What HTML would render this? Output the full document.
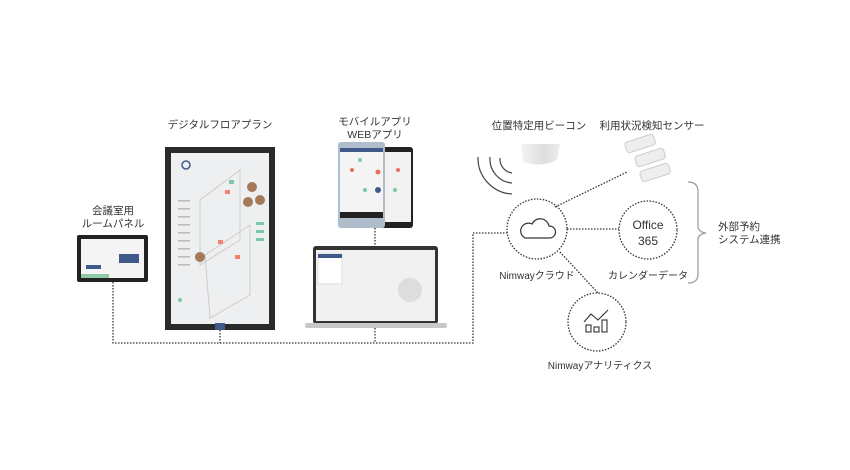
<!DOCTYPE html>
<html><head><meta charset="utf-8"><style>
html,body{margin:0;padding:0;background:#fff;}
svg{display:block}
text{font-family:"Liberation Sans","Noto Sans CJK JP",sans-serif;fill:#333;font-size:10.5px}
</style></head><body>
<svg width="850" height="470" viewBox="0 0 850 470" xmlns="http://www.w3.org/2000/svg">
<defs><linearGradient id="bg" x1="0" x2="1"><stop offset="0" stop-color="#f4f4f4"/><stop offset="0.6" stop-color="#dedede"/><stop offset="1" stop-color="#eee"/></linearGradient></defs>
<g stroke="#333" stroke-width="1.3" stroke-dasharray="1.5,1.5" fill="none">
<path d="M113 282 V343 H473 V233 H507"/>
<path d="M220 330 V343"/>
<path d="M375 328 V343"/>
<path d="M375 228 V246"/>
<path d="M555 207 L627 172"/>
<path d="M567 229 H619"/>
<path d="M560 252 L598 293"/>
<circle cx="537" cy="229" r="30"/>
<circle cx="648" cy="230" r="29"/>
<circle cx="597" cy="322" r="29"/>
</g>
<!-- room panel -->
<rect x="77" y="235" width="71" height="47" rx="2" fill="#222"/>
<rect x="81" y="239" width="63" height="39" fill="#f4f4f4"/>
<rect x="81" y="274" width="28" height="4" fill="#8fc9a6"/>
<rect x="119" y="254" width="20" height="9" fill="#3f5a8a"/>
<rect x="86" y="265" width="15" height="4" fill="#3f5a8a"/>
<!-- floor display -->
<rect x="165" y="147" width="110" height="183" fill="#2a2a2a"/>
<rect x="171" y="153" width="98" height="171" fill="#eeeff0"/>
<circle cx="186" cy="165" r="4" fill="none" stroke="#3f5a8a" stroke-width="1.5"/>
<g stroke="#ccc" fill="none"><path d="M200 200 L240 170 L240 240 L200 265Z"/><path d="M205 255 L250 225 L250 295 L210 318Z"/></g>
<g fill="#f08070"><rect x="225" y="190" width="5" height="4"/><rect x="218" y="240" width="5" height="4"/><rect x="235" y="255" width="5" height="4"/></g>
<g fill="#7ccaa5"><rect x="229" y="180" width="5" height="4"/><rect x="256" y="222" width="8" height="3"/><rect x="256" y="230" width="8" height="3"/><rect x="256" y="238" width="8" height="3"/><circle cx="180" cy="300" r="2"/></g>
<g fill="#a57a5a"><circle cx="252" cy="187" r="5"/><circle cx="248" cy="202" r="5"/><circle cx="260" cy="200" r="5"/><circle cx="200" cy="257" r="5"/></g>
<g fill="#bbb"><rect x="178" y="200" width="12" height="1.5"/><rect x="178" y="208" width="12" height="1.5"/><rect x="178" y="216" width="12" height="1.5"/><rect x="178" y="224" width="12" height="1.5"/><rect x="178" y="232" width="12" height="1.5"/><rect x="178" y="240" width="12" height="1.5"/><rect x="178" y="248" width="12" height="1.5"/><rect x="178" y="256" width="12" height="1.5"/><rect x="178" y="264" width="12" height="1.5"/></g>
<rect x="215" y="323" width="10" height="7" fill="#3f5a8a"/>
<!-- phones -->
<rect x="381" y="147" width="32" height="81" rx="3" fill="#222"/>
<rect x="383" y="152" width="28" height="70" fill="#f2f2f2"/>
<rect x="338" y="142" width="47" height="86" rx="3" fill="#aebccb"/>
<rect x="340" y="148" width="43" height="70" fill="#f4f4f4"/>
<rect x="340" y="148" width="43" height="4" fill="#3f5a8a"/>
<rect x="340" y="212" width="43" height="6" fill="#222"/>
<g fill="#e87060"><circle cx="352" cy="170" r="2"/><circle cx="378" cy="172" r="2.5"/><circle cx="398" cy="170" r="2"/></g>
<g fill="#7ccaa5"><circle cx="360" cy="160" r="2"/><circle cx="365" cy="190" r="2"/><circle cx="395" cy="190" r="2"/></g>
<circle cx="378" cy="190" r="3" fill="#3f5a8a"/>
<!-- laptop -->
<rect x="313" y="246" width="125" height="78" rx="3" fill="#333"/>
<rect x="316" y="250" width="119" height="71" fill="#f1f1f1"/>
<rect x="318" y="254" width="24" height="30" fill="#fff" stroke="#ddd"/>
<rect x="318" y="254" width="24" height="4" fill="#3f5a8a"/>
<circle cx="410" cy="290" r="12" fill="#ddd"/>
<rect x="305" y="323" width="142" height="5" rx="2" fill="#c8c8c8"/>
<!-- beacon -->
<path d="M521 144 H560 L557 160 Q540 168 523 162Z" fill="url(#bg)"/>
<g stroke="#444" stroke-width="1.2" fill="none"><path d="M478 157 A36 36 0 0 0 512 194"/><path d="M490 157 A24 24 0 0 0 512 183"/><path d="M500 158 A14 14 0 0 0 512 173"/></g>
<!-- sensors -->
<g fill="#eee" stroke="#ccc"><rect x="625" y="138" width="30" height="11" rx="3" transform="rotate(-18 640 143)"/><rect x="635" y="152" width="30" height="11" rx="3" transform="rotate(-18 650 157)"/><rect x="640" y="167" width="30" height="11" rx="3" transform="rotate(-18 655 172)"/></g>
<!-- cloud -->
<path d="M525 238 H550 A6 6 0 0 0 549 226 A9 9 0 0 0 532 224 A7 7 0 0 0 525 238Z" fill="none" stroke="#333" stroke-width="1.2"/>
<!-- analytics -->
<g stroke="#333" stroke-width="1.1" fill="none"><path d="M584 322 L591 314 L598 320 L608 310"/><rect x="586" y="325" width="5" height="7"/><rect x="594" y="327" width="5" height="5"/><rect x="602" y="320" width="5" height="12"/></g>
<text x="648" y="229" text-anchor="middle" style="font-size:12px" fill="#444">Office</text>
<text x="648" y="245" text-anchor="middle" style="font-size:12px" fill="#444">365</text>
<!-- brace -->
<path d="M688 182 Q698 182 698 192 V226 Q698 232 706 233 Q698 234 698 240 V274 Q698 283 688 283" fill="none" stroke="#999" stroke-width="1.2"/>
<!-- labels -->
<text x="220" y="128" text-anchor="middle">デジタルフロアプラン</text>
<text x="375" y="125" text-anchor="middle">モバイルアプリ</text>
<text x="375" y="138" text-anchor="middle">WEBアプリ</text>
<text x="113" y="214" text-anchor="middle">会議室用</text>
<text x="113" y="227" text-anchor="middle">ルームパネル</text>
<text x="539" y="129" text-anchor="middle">位置特定用ビーコン</text>
<text x="652" y="129" text-anchor="middle">利用状況検知センサー</text>
<text x="537" y="279" text-anchor="middle" style="font-size:10px">Nimwayクラウド</text>
<text x="648" y="279" text-anchor="middle" style="font-size:10px">カレンダーデータ</text>
<text x="600" y="369" text-anchor="middle" style="font-size:10px">Nimwayアナリティクス</text>
<text x="718" y="230">外部予約</text>
<text x="718" y="243">システム連携</text>
</svg>
</body></html>
